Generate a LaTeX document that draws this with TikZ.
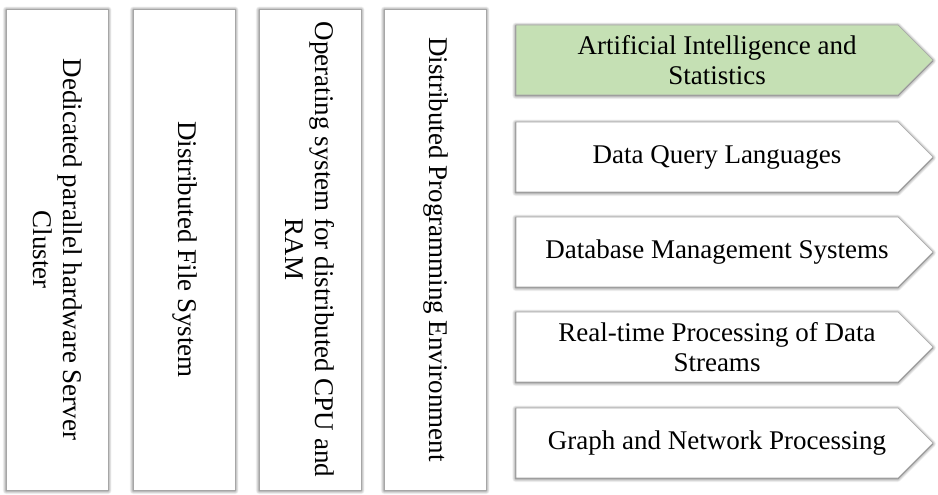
\documentclass[tikz,border=0pt]{standalone}
\usepackage{fontspec}
\setmainfont{Liberation Serif}
\usetikzlibrary{shadows.blur}
\definecolor{leafgreen}{HTML}{C5E0B4}
\definecolor{edgegray}{HTML}{A6A6A6}
\tikzset{
  soft/.style={blur shadow={shadow xshift=-0.3pt, shadow yshift=-0.8pt,
      shadow blur radius=3.5pt, shadow blur steps=8, shadow opacity=70}},
  layerbox/.style={soft, draw=edgegray, line width=0.6pt, fill=white,
      rotate=-90, minimum width=481pt, minimum height=102pt,
      align=center, inner sep=0pt},
  chevron/.style={soft, draw=edgegray, line width=0.6pt, fill=white},
  chevgreen/.style={chevron, fill=leafgreen},
  label/.style={align=center, inner sep=0pt},
}
\newcommand\chevpath[2]{% style, vertical centre
  \path[#1] (516,#2-35) -- (898,#2-35) -- (933,#2) -- (898,#2+35)
        -- (516,#2+35) -- cycle;}
\begin{document}
\begin{tikzpicture}[x=1pt,y=1pt,font=\fontsize{27}{30}\selectfont]
\useasboundingbox (0,0) rectangle (938,495);

% stacked platform layers
\node[layerbox] (hw)  at (57.5,245.5)  {Dedicated parallel hardware Server\\Cluster};
\node[layerbox] (dfs) at (184.5,245.5) {Distributed File System};
\node[layerbox] (os)  at (310.5,245.5) {Operating system for distributed CPU and\\RAM};
\node[layerbox] (dpe) at (435.5,245.5) {Distributed Programming Environment};

% application chevrons
\chevpath{chevgreen}{435}
\chevpath{chevron}{338}
\chevpath{chevron}{243}
\chevpath{chevron}{148}
\chevpath{chevron}{52}

\node[label] (ai)  at (717,435) {Artificial Intelligence and\\Statistics};
\node[label] (dql) at (717,338) {Data Query Languages};
\node[label] (dbm) at (717,243) {Database Management Systems};
\node[label] (rt)  at (717,148) {Real-time Processing of Data\\Streams};
\node[label] (gnp) at (717,52)  {Graph and Network Processing};
\end{tikzpicture}
\end{document}
